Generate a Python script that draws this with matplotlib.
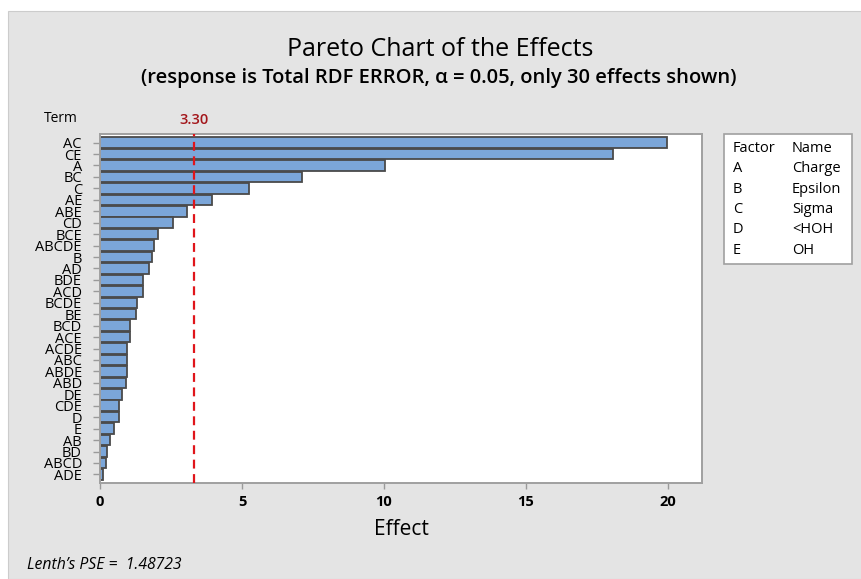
"""
Pareto chart of the standardized effects (Minitab style)
"""
import matplotlib.pyplot as plt
from matplotlib.patches import Rectangle

plt.rcParams["font.family"] = ["Open Sans", "DejaVu Sans"]

# Effects, largest first
terms = ["AC", "CE", "A", "BC", "C", "AE", "ABE", "CD", "BCE", "ABCDE",
         "B", "AD", "BDE", "ACD", "BCDE", "BE", "BCD", "ACE", "ACDE", "ABC",
         "ABDE", "ABD", "DE", "CDE", "D", "E", "AB", "BD", "ABCD", "ADE"]
effects = [19.98, 18.08, 10.03, 7.11, 5.24, 3.95, 3.05, 2.58, 2.03, 1.90,
           1.83, 1.72, 1.52, 1.52, 1.32, 1.28, 1.05, 1.05, 0.96, 0.96,
           0.95, 0.90, 0.78, 0.68, 0.68, 0.48, 0.35, 0.25, 0.22, 0.11]
critical = 3.30
pse = 1.48723
xticks = [0, 5, 10, 15, 20]

factors = ["A", "B", "C", "D", "E"]
factor_names = ["Charge", "Epsilon", "Sigma", "<HOH", "OH"]

W, H = 862, 579


def fx(x):
    return x / W


def fy(y):
    return 1 - y / H


fig = plt.figure(figsize=(W / 100, H / 100), dpi=100)
fig.patch.set_facecolor("white")
fig.add_artist(Rectangle((fx(8), 0), 1 - fx(8), fy(11), transform=fig.transFigure,
                         facecolor="#e4e4e4", edgecolor="#cccccc", lw=0.8, zorder=0))

ax = fig.add_axes([fx(100), fy(483), fx(702) - fx(100), fy(134) - fy(483)])
ax.set_facecolor("white")

pos = list(range(len(terms)))
ax.barh(pos, effects, height=0.92, color="#7ba6d9", edgecolor="#4a4a4a", linewidth=1.3,
        zorder=2)
ax.axvline(critical, color="#e0151b", lw=1.6, ls=(0, (4, 2.5)), zorder=3)

ax.set_xlim(0, 21.2)
ax.set_ylim(len(terms) - 0.25, -0.75)
ax.set_yticks(pos)
ax.set_yticklabels(terms, fontsize=10.5)
ax.set_xticks(xticks)
ax.set_xticklabels([str(t) for t in xticks], fontsize=10.5, fontweight="bold")
ax.tick_params(axis="y", length=5, width=1, color="#9a9a9a", pad=8)
ax.tick_params(axis="x", length=4, width=1, color="#9a9a9a", pad=5)
for s in ax.spines.values():
    s.set_color("#a0a0a0")
    s.set_linewidth(1.4)

ax.set_xlabel("Effect", fontsize=15, labelpad=7)

fig.text(fx(440), fy(49), "Pareto Chart of the Effects", fontsize=18,
         fontweight="medium", ha="center", va="center")
fig.text(fx(439), fy(78),
         "(response is Total RDF ERROR, \u03b1 = 0.05, only 30 effects shown)",
         fontsize=14.5, fontweight="semibold", ha="center", va="center")
fig.text(fx(61), fy(118), "Term", fontsize=10, ha="center", va="center")
ax.annotate(f"{critical:.2f}", xy=(critical, 1), xycoords=("data", "axes fraction"),
            xytext=(0, 10), textcoords="offset points", ha="center", va="center",
            color="#a3161b", fontsize=10.5, fontweight="semibold")
fig.text(fx(27), fy(565), f"Lenth\u2019s PSE =  {pse}", fontsize=11.3,
         style="italic", ha="left", va="center")

# factor key box
fig.add_artist(Rectangle((fx(724), fy(264)), fx(852) - fx(724), fy(134) - fy(264),
                         transform=fig.transFigure, facecolor="white",
                         edgecolor="#a0a0a0", lw=1.2))
fig.text(fx(733), fy(149), "Factor", fontsize=10.5, ha="left", va="center")
fig.text(fx(792), fy(149), "Name", fontsize=10.5, ha="left", va="center")
for i, (f, n) in enumerate(zip(factors, factor_names)):
    y = 169 + i * 20.3
    fig.text(fx(733), fy(y), f, fontsize=10.5, ha="left", va="center")
    fig.text(fx(792), fy(y), n, fontsize=10.5, ha="left", va="center")

fig.savefig("out.png", dpi=100)
